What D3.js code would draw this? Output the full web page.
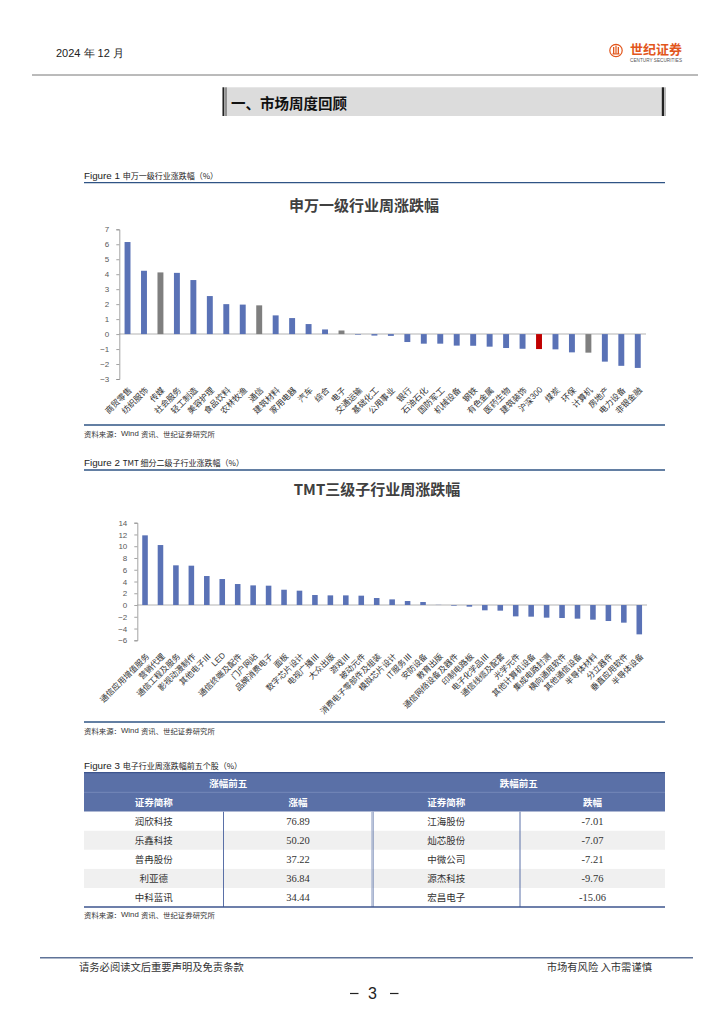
<!DOCTYPE html>
<html><head><meta charset="utf-8">
<script src="https://cdn.jsdelivr.net/npm/d3@7"></script>
<style>
html,body{margin:0;padding:0;background:#fff;}
svg{display:block;}
</style></head>
<body>
<svg id="page" width="724" height="1024"></svg>
<script>
// ---------- DATA ----------
const fig1Categories = ['商贸零售','纺织服饰','传媒','社会服务','轻工制造','美容护理','食品饮料','农林牧渔','通信','建筑材料','家用电器','汽车','综合','电子','交通运输','基础化工','公用事业','银行','石油石化','国防军工','机械设备','钢铁','有色金属','医药生物','建筑装饰','沪深300','煤炭','环保','计算机','房地产','电力设备','非银金融'];
const fig1Values = [6.15,4.23,4.12,4.09,3.61,2.54,2.00,1.97,1.92,1.25,1.07,0.67,0.31,0.24,-0.04,-0.10,-0.12,-0.53,-0.64,-0.64,-0.77,-0.78,-0.84,-0.93,-0.98,-1.00,-1.02,-1.22,-1.24,-1.84,-2.12,-2.26];
const fig1GrayCategories = ['传媒','通信','电子','计算机'];
const fig1RedCategories = ['沪深300'];
const fig1YTicks = [7,6,5,4,3,2,1,0,-1,-2,-3];

const fig2Categories = ['通信应用增值服务','营销代理','通信工程及服务','影视动漫制作','其他电子Ⅲ','LED','通信终端及配件','门户网站','品牌消费电子','面板','数字芯片设计','电视广播Ⅲ','大众出版','游戏Ⅲ','被动元件','消费电子零部件及组装','模拟芯片设计','IT服务Ⅲ','安防设备','教育出版','通信网络设备及器件','印制电路板','电子化学品Ⅲ','通信线缆及配套','光学元件','其他计算机设备','集成电路封测','横向通用软件','其他通信设备','半导体材料','分立器件','垂直应用软件','半导体设备'];
const fig2Values = [11.85,10.20,6.75,6.69,4.93,4.42,3.57,3.34,3.29,2.60,2.44,1.70,1.64,1.64,1.59,1.19,0.96,0.68,0.51,0.03,-0.11,-0.28,-0.90,-0.96,-1.93,-1.98,-2.15,-2.21,-2.32,-2.49,-2.72,-3.00,-4.99];
const fig2YTicks = [14,12,10,8,6,4,2,0,-2,-4,-6];

const gainNames = ['润欣科技','乐鑫科技','普冉股份','利亚德','中科蓝讯'];
const gainValues = [76.89,50.20,37.22,36.84,34.44];
const lossNames = ['江海股份','灿芯股份','中微公司','源杰科技','宏昌电子'];
const lossValues = [-7.01,-7.07,-7.21,-9.76,-15.06];

// ---------- STYLE ----------
const CJK = '"Noto Sans CJK SC", "Noto Sans", sans-serif';
const LAT = '"Liberation Sans", Arial, sans-serif';
const SERIF = '"Liberation Serif", "Times New Roman", serif';
const BLUE_LINE = '#2f5485';
const BAR_BLUE = '#5a72b6';

const svg = d3.select('#page');

function txt(x, y, s, o = {}) {
  return svg.append('text').attr('x', x).attr('y', y).text(s)
    .attr('font-family', o.family || CJK).attr('font-size', o.size || 10)
    .attr('font-weight', o.weight || 400).attr('fill', o.fill || '#333')
    .attr('text-anchor', o.anchor || 'start').attr('dominant-baseline', 'central');
}

// ---------- HEADER ----------
txt(56, 52.5, '2024 年 12 月', {family: LAT, size: 11, fill: '#222'});
// logo
const logo = svg.append('g');
logo.append('circle').attr('cx', 616).attr('cy', 50.5).attr('r', 6.2).attr('fill', 'none').attr('stroke', '#e2561c').attr('stroke-width', 1.2);
logo.append('rect').attr('x', 613).attr('y', 47).attr('width', 1.3).attr('height', 7).attr('fill', '#e2561c');
logo.append('rect').attr('x', 617.7).attr('y', 47).attr('width', 1.3).attr('height', 7).attr('fill', '#e2561c');
logo.append('rect').attr('x', 612.5).attr('y', 53.3).attr('width', 7).attr('height', 1.2).attr('fill', '#e2561c');
logo.append('rect').attr('x', 615.4).attr('y', 45.5).attr('width', 1.2).attr('height', 8).attr('fill', '#e2561c');
txt(630, 48.5, '世纪证券', {size: 13, weight: 700, fill: '#e2561c'}).attr('textLength', 52);
txt(630, 60, 'CENTURY SECURITIES', {family: LAT, size: 4.6, fill: '#555'}).attr('textLength', 52);
svg.append('line').attr('x1', 32).attr('x2', 698).attr('y1', 75).attr('y2', 75).attr('stroke', '#777').attr('stroke-width', 1);

// section heading
svg.append('rect').attr('x', 222.5).attr('y', 87.3).attr('width', 441).attr('height', 28.7).attr('fill', '#dcdcdc');
svg.append('rect').attr('x', 222.5).attr('y', 87.3).attr('width', 1.8).attr('height', 28.7).attr('fill', '#222');
svg.append('rect').attr('x', 225.6).attr('y', 87.3).attr('width', 0.8).attr('height', 28.7).attr('fill', '#222');
svg.append('rect').attr('x', 661.8).attr('y', 87.3).attr('width', 2.2).attr('height', 28.7).attr('fill', '#222');
svg.append('rect').attr('x', 664.6).attr('y', 87.3).attr('width', 0.8).attr('height', 28.7).attr('fill', '#555');
txt(231, 102.5, '一、市场周度回顾', {size: 14.5, weight: 700, fill: '#111'});

// ---------- FIGURE CAPTION helper ----------
function caption(y, label, zh) {
  const t = svg.append('text').attr('x', 84).attr('y', y).attr('dominant-baseline', 'central').attr('fill', '#222');
  t.append('tspan').text(label + ' ').attr('font-family', LAT).attr('font-size', 9.8);
  t.append('tspan').text(zh).attr('font-family', CJK).attr('font-size', 8);
  svg.append('line').attr('x1', 84).attr('x2', 665).attr('y1', y + 7.7).attr('y2', y + 7.7).attr('stroke', BLUE_LINE).attr('stroke-width', 1.3);
}
function source(y) {
  svg.append('line').attr('x1', 84).attr('x2', 665).attr('y1', y).attr('y2', y).attr('stroke', BLUE_LINE).attr('stroke-width', 1.3);
  const t = svg.append('text').attr('x', 84).attr('y', y + 7.5).attr('dominant-baseline', 'central').attr('fill', '#333').attr('font-size', 7.4);
  t.append('tspan').text('资料来源：').attr('font-family', CJK);
  t.append('tspan').text('Wind ').attr('font-family', LAT).attr('font-size', 7.8);
  t.append('tspan').text('资讯、世纪证券研究所').attr('font-family', CJK);
}

// ---------- BAR CHART helper ----------
function barChart(o) {
  const x = d3.scaleBand().domain(o.cats).range([o.x0, o.x1]).paddingInner(0.64).paddingOuter(0.32);
  const y = d3.scaleLinear().domain(o.domain).range([o.yBottom, o.yTop]);
  const g = svg.append('g');
  // zero line
  g.append('line').attr('x1', o.x0).attr('x2', o.x1).attr('y1', y(0)).attr('y2', y(0)).attr('stroke', '#d9d9d9').attr('stroke-width', 2);
  // bars
  g.selectAll('rect.bar').data(o.cats).join('rect').attr('class', 'bar')
    .attr('x', d => x(d)).attr('width', x.bandwidth())
    .attr('y', (d, i) => y(Math.max(0, o.vals[i])))
    .attr('height', (d, i) => Math.abs(y(o.vals[i]) - y(0)))
    .attr('fill', d => o.color(d));
  // y axis
  const ax = g.append('g').attr('transform', `translate(${o.x0},0)`)
    .call(d3.axisLeft(y).tickValues(o.ticks).tickSize(3).tickPadding(7).tickFormat(d3.format('d')));
  ax.select('.domain').attr('stroke', '#8c8c8c').attr('stroke-width', 0.8);
  ax.selectAll('.tick line').attr('stroke', '#8c8c8c').attr('stroke-width', 0.8);
  ax.selectAll('.tick text').attr('font-family', LAT).attr('font-size', 8).attr('fill', '#595959');
  // x labels
  g.selectAll('text.xl').data(o.cats).join('text').attr('class', 'xl')
    .attr('transform', d => `translate(${x(d) + x.bandwidth() / 2 + 2},${o.labelY}) rotate(-45)`)
    .attr('text-anchor', 'end').attr('dominant-baseline', 'central')
    .attr('font-family', d => /^[A-Za-z0-9]+$/.test(d) ? LAT : CJK)
    .attr('font-size', o.labelSize).attr('fill', '#333')
    .each(function(d) {
      const el = d3.select(this);
      const m = d.match(/^(.*?)(\d+)$/);
      if (m && m[1]) {
        el.append('tspan').text(m[1]);
        el.append('tspan').text(m[2]).attr('font-family', LAT);
      } else el.text(d);
    });
  // title
  txt(o.titleX, o.titleY, o.title, {size: 15, weight: 700, fill: '#404040', anchor: 'middle'});
}

// ---------- FIGURE 1 ----------
caption(175, 'Figure 1', '申万一级行业涨跌幅（%）');
barChart({
  cats: fig1Categories, vals: fig1Values,
  color: d => fig1RedCategories.includes(d) ? '#c00000' : (fig1GrayCategories.includes(d) ? '#7f7f7f' : BAR_BLUE),
  x0: 119.3, x1: 646, domain: [-3, 7], yBottom: 379, yTop: 229.3, ticks: fig1YTicks,
  labelY: 388, labelSize: 8.4, title: '申万一级行业周涨跌幅', titleX: 364, titleY: 204
});
source(425);

// ---------- FIGURE 2 ----------
caption(462.3, 'Figure 2', 'TMT 细分二级子行业涨跌幅（%）');
barChart({
  cats: fig2Categories, vals: fig2Values,
  color: () => BAR_BLUE,
  x0: 137.3, x1: 647, domain: [-6, 14], yBottom: 640.3, yTop: 522.7, ticks: fig2YTicks,
  labelY: 654, labelSize: 8.2, title: 'TMT三级子行业周涨跌幅', titleX: 377, titleY: 488.5
});
source(722);

// ---------- FIGURE 3 TABLE ----------
(function() {
  const t = svg.append('text').attr('x', 84).attr('y', 765).attr('dominant-baseline', 'central').attr('fill', '#222');
  t.append('tspan').text('Figure 3 ').attr('font-family', LAT).attr('font-size', 9.8);
  t.append('tspan').text('电子行业周涨跌幅前五个股（%）').attr('font-family', CJK).attr('font-size', 8);

  const cols = [84, 223.5, 372.5, 520, 665];
  const top = 772.7, h1 = 792.3, h2 = 811.7, rowH = 19.06;
  const HEAD = '#5a70a7';
  svg.append('rect').attr('x', cols[0]).attr('y', top).attr('width', cols[4] - cols[0]).attr('height', h2 - top).attr('fill', HEAD);
  svg.append('line').attr('x1', cols[0]).attr('x2', cols[4]).attr('y1', top).attr('y2', top).attr('stroke', '#3d558e').attr('stroke-width', 1.2);
  svg.append('line').attr('x1', cols[0]).attr('x2', cols[4]).attr('y1', h1).attr('y2', h1).attr('stroke', '#7b8ebd').attr('stroke-width', 0.8);
  const hs = {size: 9.5, weight: 700, fill: '#fff', anchor: 'middle'};
  txt((cols[0] + cols[2]) / 2, (top + h1) / 2, '涨幅前五', hs);
  txt((cols[2] + cols[4]) / 2, (top + h1) / 2, '跌幅前五', hs);
  const heads = ['证券简称', '涨幅', '证券简称', '跌幅'];
  heads.forEach((s, i) => txt((cols[i] + cols[i + 1]) / 2, (h1 + h2) / 2, s, hs));

  const rows = d3.range(gainNames.length);
  svg.selectAll('rect.row').data(rows).join('rect').attr('class', 'row')
    .attr('x', cols[0]).attr('width', cols[4] - cols[0])
    .attr('y', i => h2 + i * rowH).attr('height', rowH)
    .attr('fill', i => i % 2 === 1 ? '#f0f0f0' : '#fff');
  rows.forEach(i => {
    const cy = h2 + i * rowH + rowH / 2;
    txt((cols[0] + cols[1]) / 2, cy, gainNames[i], {size: 9.5, anchor: 'middle', fill: '#333'});
    txt((cols[1] + cols[2]) / 2, cy, d3.format('.2f')(gainValues[i]), {family: SERIF, size: 10.5, anchor: 'middle', fill: '#333'});
    txt((cols[2] + cols[3]) / 2, cy, lossNames[i], {size: 9.5, anchor: 'middle', fill: '#333'});
    txt((cols[3] + cols[4]) / 2, cy, d3.format('.2f')(lossValues[i]).replace('−', '-'), {family: SERIF, size: 10.5, anchor: 'middle', fill: '#333'});
  });
  const bottom = h2 + rowH * rows.length;
  [cols[1], cols[3]].forEach(cx => svg.append('line').attr('x1', cx).attr('x2', cx).attr('y1', h2).attr('y2', bottom).attr('stroke', '#5a70a7').attr('stroke-width', 1));
  svg.append('line').attr('x1', cols[2] - 0.8).attr('x2', cols[2] - 0.8).attr('y1', h2).attr('y2', bottom).attr('stroke', '#b5bfd8').attr('stroke-width', 1);
  svg.append('line').attr('x1', cols[2] + 0.6).attr('x2', cols[2] + 0.6).attr('y1', h2).attr('y2', bottom).attr('stroke', '#5a70a7').attr('stroke-width', 0.9);
  svg.append('line').attr('x1', cols[0]).attr('x2', cols[4]).attr('y1', bottom).attr('y2', bottom).attr('stroke', '#3d558e').attr('stroke-width', 1.4);
  const s = svg.append('text').attr('x', 84).attr('y', bottom + 6.5).attr('dominant-baseline', 'central').attr('fill', '#333').attr('font-size', 7.4);
  s.append('tspan').text('资料来源：').attr('font-family', CJK);
  s.append('tspan').text('Wind ').attr('font-family', LAT).attr('font-size', 7.8);
  s.append('tspan').text('资讯、世纪证券研究所').attr('font-family', CJK);
})();

// ---------- FOOTER ----------
svg.append('line').attr('x1', 40).attr('x2', 693).attr('y1', 957.7).attr('y2', 957.7).attr('stroke', '#5f7398').attr('stroke-width', 1.4);
txt(79, 966.5, '请务必阅读文后重要声明及免责条款', {size: 10.3, fill: '#333'});
txt(652, 966.5, '市场有风险  入市需谨慎', {size: 10.3, fill: '#333', anchor: 'end'});
txt(372.5, 993, '3', {family: LAT, size: 16, fill: '#222', anchor: 'middle'});
svg.append('line').attr('x1', 350).attr('x2', 358.5).attr('y1', 993.5).attr('y2', 993.5).attr('stroke', '#222').attr('stroke-width', 1.2);
svg.append('line').attr('x1', 390).attr('x2', 398.5).attr('y1', 993.5).attr('y2', 993.5).attr('stroke', '#222').attr('stroke-width', 1.2);
</script>
</body></html>
